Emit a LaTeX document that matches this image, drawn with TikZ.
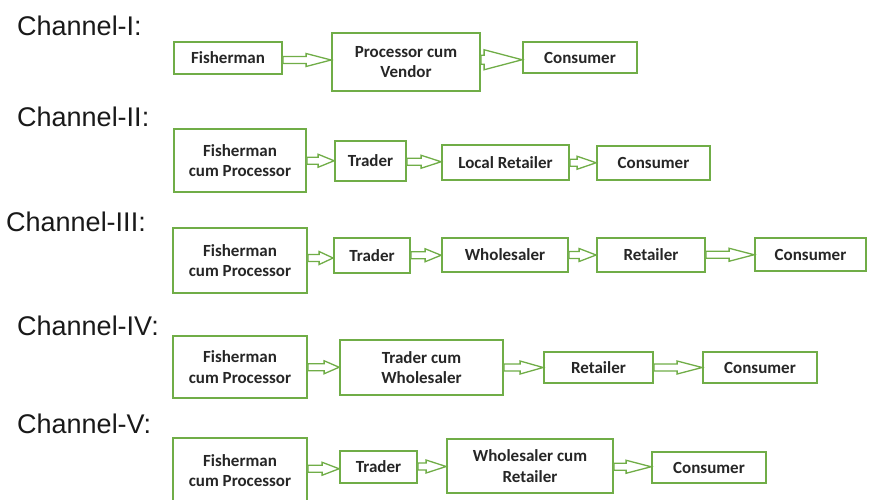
\documentclass[tikz,border=0pt]{standalone}
\usepackage{fontspec}
\setmainfont{Liberation Sans}
\newfontfamily\carlito{Carlito}
\usetikzlibrary{calc}

\definecolor{boxgreen}{HTML}{70AD47}
\definecolor{txtdark}{HTML}{262626}

\tikzset{
  stagebox/.style={draw=boxgreen, line width=1.8pt, fill=white, align=center,
    inner sep=0pt, text=txtdark,
    font=\carlito\bfseries\fontsize{17}{20.5}\selectfont},
  chanlabel/.style={anchor=base west, inner sep=0pt, text=black!90,
    font=\fontsize{27}{30}\selectfont},
  flowarrow/.style={draw=boxgreen, line width=1.3pt, fill=white, line join=miter}
}

% stage box given by its corners: name, x1, y1, x2, y2, text
\newcommand{\stage}[6]{%
  \node[stagebox, minimum width={(#4-#2)*1pt}, minimum height={(#5-#3)*1pt}]
    (#1) at ({(#2+#4)/2},{(#3+#5)/2}) {#6};}

% block arrow from one box to the next: from, to, head length, shaft half-height, head half-height
\newcommand{\flow}[5]{%
  \path[flowarrow] let \p1=(#1.east), \p2=(#2.west), \n1={(\y1+\y2)/2} in
    (\x1,\n1+#4pt) -- (\x2-#3pt,\n1+#4pt) -- (\x2-#3pt,\n1+#5pt) -- (\x2,\n1)
    -- (\x2-#3pt,\n1-#5pt) -- (\x2-#3pt,\n1-#4pt) -- (\x1,\n1-#4pt) -- cycle;}

\begin{document}
\begin{tikzpicture}[x=1pt, y=-1pt]
\useasboundingbox (0,0) rectangle (869,499);
\clip (0,0) rectangle (869,499);

% channel labels
\node[chanlabel] (lab1) at (17,35)  {Channel-I:};
\node[chanlabel] (lab2) at (17,126) {Channel-II:};
\node[chanlabel] (lab3) at (6,231)  {Channel-III:};
\node[chanlabel] (lab4) at (17,335) {Channel-IV:};
\node[chanlabel] (lab5) at (17,433) {Channel-V:};

% Channel I
\stage{f1}{174}{42}{282}{74}{Fisherman}
\stage{p1}{332}{33}{480}{91}{Processor cum\\Vendor}
\stage{c1}{523}{42}{637}{73}{Consumer}
\flow{f1}{p1}{25}{3.5}{6.5}
\flow{p1}{c1}{38}{4.5}{10}

% Channel II
\stage{f2}{174}{129}{306}{192}{Fisherman\\cum Processor}
\stage{t2}{335}{141}{406}{181}{Trader}
\stage{l2}{442}{145}{569}{180}{Local Retailer}
\stage{c2}{597}{146}{710}{180}{Consumer}
\flow{f2}{t2}{16}{3.5}{6.5}
\flow{t2}{l2}{20}{3.5}{6.5}
\flow{l2}{c2}{19}{3.5}{6.5}

% Channel III
\stage{f3}{173}{228}{307}{293}{Fisherman\\cum Processor}
\stage{t3}{334}{238}{410}{273}{Trader}
\stage{w3}{442}{238}{568}{272}{Wholesaler}
\stage{r3}{597}{238}{705}{272}{Retailer}
\stage{c3}{755}{238}{866}{271}{Consumer}
\flow{f3}{t3}{14}{3.5}{6.5}
\flow{t3}{w3}{16}{3.5}{6.5}
\flow{w3}{r3}{17}{3.5}{6.5}
\flow{r3}{c3}{25}{3.5}{6.5}

% Channel IV
\stage{f4}{173}{336}{307}{398}{Fisherman\\cum Processor}
\stage{tw4}{340}{340}{503}{395}{Trader cum\\Wholesaler}
\stage{r4}{544}{352}{653}{383}{Retailer}
\stage{c4}{703}{352}{817}{383}{Consumer}
\flow{f4}{tw4}{15}{3.5}{6.5}
\flow{tw4}{r4}{23}{3.5}{6.5}
\flow{r4}{c4}{25}{3.5}{6.5}

% Channel V
\stage{f5}{173}{438}{307}{503}{Fisherman\\cum Processor}
\stage{t5}{340}{451}{417}{483}{Trader}
\stage{w5}{447}{439}{613}{493}{Wholesaler cum\\Retailer}
\stage{c5}{652}{452}{766}{483}{Consumer}
\flow{f5}{t5}{17}{3.5}{6.5}
\flow{t5}{w5}{20}{3.5}{6.5}
\flow{w5}{c5}{25}{3.5}{6.5}
\end{tikzpicture}
\end{document}
